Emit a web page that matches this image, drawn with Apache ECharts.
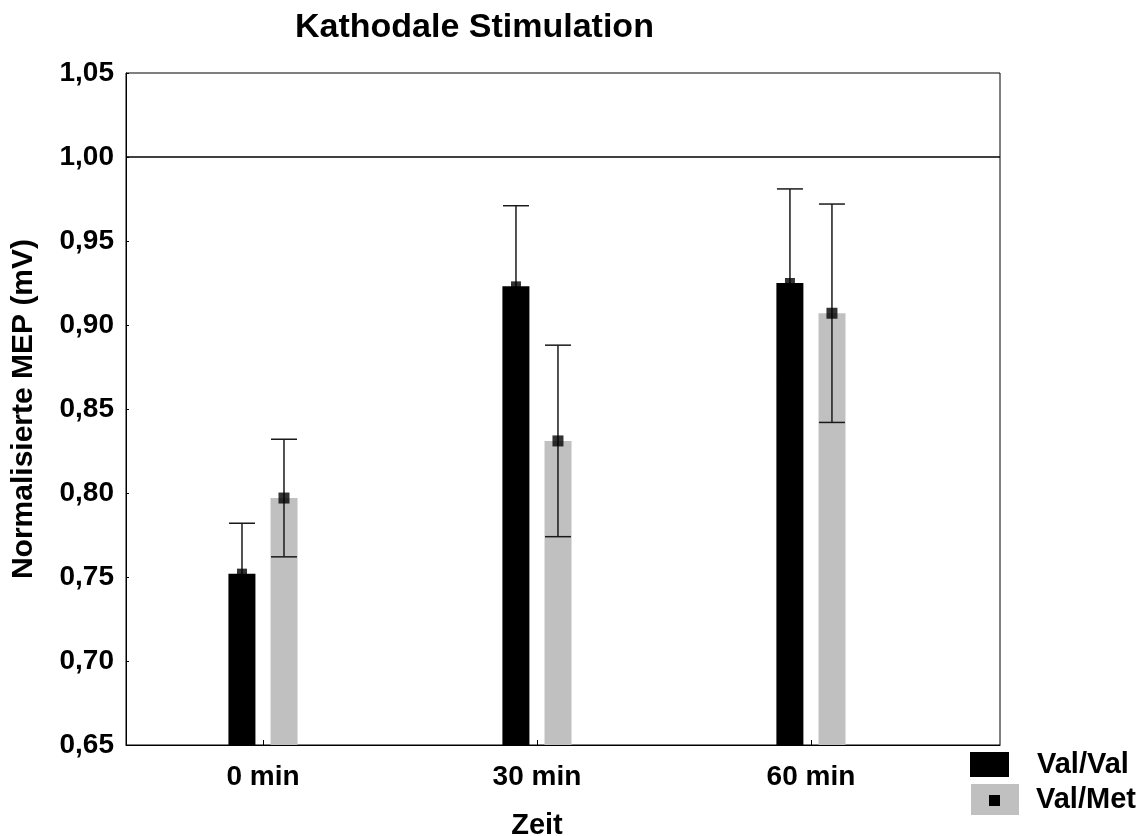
<!DOCTYPE html>
<html>
<head>
<meta charset="utf-8">
<title>Kathodale Stimulation</title>
<script src="https://cdn.jsdelivr.net/npm/echarts@6/dist/echarts.min.js"></script>
<style>
	html, body { margin: 0; padding: 0; background: #fff; }
	#main { width: 1141px; height: 836px; }
</style>
</head>
<body>
<div id="main"></div>
<script>
	// Daten
	var categories = ['0 min', '30 min', '60 min'];
	var catPos = [0, 1, 2];
	var valValMean = [0.752, 0.923, 0.925];
	var valValErr = [0.030, 0.048, 0.056];
	var valMetMean = [0.797, 0.831, 0.907];
	var valMetErr = [0.035, 0.057, 0.065];
	var yTicks = [0.65, 0.70, 0.75, 0.80, 0.85, 0.90, 0.95, 1.00, 1.05];

	var font = "'Liberation Sans', Arial, sans-serif";
	var barW = 27;
	var barOff = 21; // halber Abstand der Balkenmitten

	function pairs(vals) {
		var out = [];
		for (var i = 0; i < vals.length; i++) out.push([catPos[i], vals[i]]);
		return out;
	}
	function errData(mean, err) {
		var out = [];
		for (var i = 0; i < mean.length; i++) out.push([catPos[i], mean[i] - err[i], mean[i] + err[i]]);
		return out;
	}
	function errRender(offset) {
		return function(params, api) {
			var lo = api.coord([api.value(0), api.value(1)]);
			var hi = api.coord([api.value(0), api.value(2)]);
			var x = lo[0] + offset;
			var hw = barW / 2 - 0.5;
			var st = { stroke: '#1a1a1a', lineWidth: 1.5 };
			return {
				type: 'group',
				children: [
					{ type: 'line', shape: { x1: x, y1: lo[1], x2: x, y2: hi[1] }, style: st },
					{ type: 'line', shape: { x1: x - hw, y1: hi[1], x2: x + hw, y2: hi[1] }, style: st },
					{ type: 'line', shape: { x1: x - hw, y1: lo[1], x2: x + hw, y2: lo[1] }, style: st }
				]
			};
		};
	}
	var labelStyle = { fontFamily: font, fontWeight: 'bold', color: '#000' };

	var myChart = echarts.init(document.getElementById('main'));
	var option = {
		backgroundColor: '#fff',
		animation: false,
		title: {
			text: 'Kathodale Stimulation',
			left: 290,
			top: 6,
			textStyle: { fontFamily: font, fontWeight: 'bold', fontSize: 34, color: '#000' }
		},
		legend: [{
			data: [{ name: 'Val/Val', icon: 'rect' }],
			left: 965, top: 745, orient: 'vertical',
			itemWidth: 39, itemHeight: 25,
			selectedMode: false,
			textStyle: { fontFamily: font, fontWeight: 'bold', fontSize: 29, color: '#000', padding: [0, 0, 0, 23] }
		}, {
			data: [{ name: 'Val/Met', icon: 'rect' }],
			left: 966, top: 779, orient: 'vertical',
			itemWidth: 48, itemHeight: 31,
			selectedMode: false,
			textStyle: { fontFamily: font, fontWeight: 'bold', fontSize: 29, color: '#000', padding: [0, 0, 0, 12] }
		}, {
			// Mittelwert-Symbol im grauen Feld
			data: [{ name: 'Val/Met', icon: 'rect', itemStyle: { color: '#000' } }],
			left: 984, top: 790, orient: 'vertical',
			itemWidth: 11, itemHeight: 11,
			selectedMode: false,
			formatter: function() { return ''; }
		}],
		grid: {
			left: 126, right: 141, top: 73, bottom: 91,
			show: true, borderColor: '#000', borderWidth: 1,
			containLabel: false,
			outerBoundsMode: 'none'
		},
		xAxis: {
			type: 'value',
			min: -0.5,
			max: 2.69,
			name: 'Zeit',
			nameLocation: 'middle',
			nameGap: 66,
			nameTextStyle: Object.assign({ fontSize: 29, padding: [0, 52, 0, 0] }, labelStyle),
			axisLine: { show: true, onZero: false, lineStyle: { color: '#000', width: 1 } },
			axisTick: { show: true, inside: true, length: 5, customValues: catPos, lineStyle: { color: '#000' } },
			axisLabel: Object.assign({
				customValues: catPos,
				margin: 18,
				fontSize: 28,
				formatter: function(v) { return categories[Math.round(v)]; }
			}, labelStyle),
			splitLine: { show: false }
		},
		yAxis: {
			type: 'value',
			min: 0.65,
			max: 1.05,
			interval: 0.05,
			name: 'Normalisierte MEP (mV)',
			nameLocation: 'middle',
			nameGap: 87,
			nameTextStyle: Object.assign({ fontSize: 30 }, labelStyle),
			axisLine: { show: true, onZero: false, lineStyle: { color: '#000', width: 1 } },
			axisTick: { show: true, inside: true, length: 3, lineStyle: { color: '#000' } },
			axisLabel: Object.assign({
				margin: 12,
				fontSize: 28,
				customValues: yTicks,
				formatter: function(v) { return v.toFixed(2).replace('.', ','); }
			}, labelStyle),
			splitLine: { show: false }
		},
		series: [{
			name: 'Val/Val',
			type: 'bar',
			data: pairs(valValMean),
			barWidth: barW,
			barGap: '56%',
			itemStyle: { color: '#000' },
			z: 2,
			markLine: {
				silent: true,
				symbol: 'none',
				label: { show: false },
				lineStyle: { color: '#000', width: 1.5, type: 'solid' },
				data: [{ yAxis: 1.0 }]
			}
		}, {
			name: 'Val/Met',
			type: 'bar',
			data: pairs(valMetMean),
			barWidth: barW,
			itemStyle: { color: '#c0c0c0' },
			z: 2
		}, {
			// unterer Teil liegt hinter dem schwarzen Balken
			name: 'Val/Val Fehler',
			type: 'custom',
			renderItem: errRender(-barOff),
			data: errData(valValMean, valValErr),
			encode: { x: 0, y: [1, 2] },
			z: 1
		}, {
			name: 'Val/Met Fehler',
			type: 'custom',
			renderItem: errRender(barOff),
			data: errData(valMetMean, valMetErr),
			encode: { x: 0, y: [1, 2] },
			z: 3
		}, {
			name: 'Val/Val Mittel',
			type: 'scatter',
			data: pairs(valValMean),
			symbol: 'rect',
			symbolSize: 10,
			symbolOffset: [-barOff, 0],
			itemStyle: { color: '#000' },
			z: 4
		}, {
			name: 'Val/Met Mittel',
			type: 'scatter',
			data: pairs(valMetMean),
			symbol: 'rect',
			symbolSize: 11,
			symbolOffset: [barOff, 0],
			itemStyle: { color: '#000' },
			z: 4
		}]
	};
	myChart.setOption(option);
</script>
</body>
</html>
